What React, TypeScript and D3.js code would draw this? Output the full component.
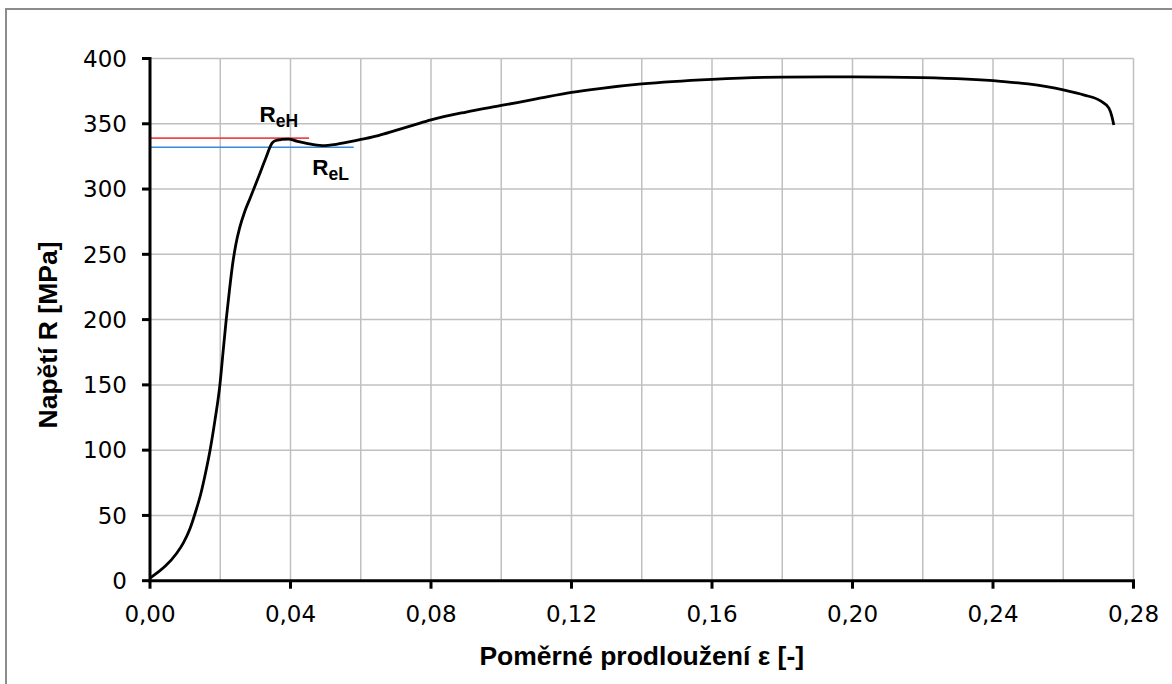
import React from "react";
import * as d3 from "d3";

const strain = [0, 0.002, 0.0043, 0.0076, 0.0095, 0.0114, 0.013, 0.0145, 0.016, 0.0171, 0.0185, 0.0199, 0.0208, 0.0217, 0.0226, 0.0235, 0.0244, 0.0255, 0.027, 0.0285, 0.031, 0.033, 0.0347, 0.0356, 0.0375, 0.0394, 0.042, 0.0446, 0.049, 0.053, 0.057, 0.06, 0.065, 0.07, 0.075, 0.08, 0.09, 0.1, 0.11, 0.12, 0.128, 0.14, 0.16, 0.18, 0.2, 0.22, 0.2422, 0.25, 0.26, 0.266, 0.2706, 0.273, 0.2738, 0.2744];
const stress = [2, 6, 11, 21, 29, 40, 53, 67, 85, 100, 123, 150, 175, 200, 222, 242, 257, 270, 283, 293, 310, 324, 335, 337, 338, 338.3, 336.5, 335, 333.3, 334.3, 336.3, 338, 341, 345, 349, 353, 359, 364, 369, 374, 377, 380.5, 384, 385.8, 386, 385.3, 382.5, 380.5, 376, 372, 367.5, 362, 356, 349];

const xTicks = [0, 0.04, 0.08, 0.12, 0.16, 0.2, 0.24, 0.28];
const xGrid = [0.02, 0.04, 0.06, 0.08, 0.1, 0.12, 0.14, 0.16, 0.18, 0.2, 0.22, 0.24, 0.26, 0.28];
const yTicks = [0, 50, 100, 150, 200, 250, 300, 350, 400];

const reH = { value: 339, end: 0.0453, labelX: 0.0312, labelY: 351.6 };
const reL = { value: 332, end: 0.058, labelX: 0.0462, labelY: 310.8 };

const xTitle = "Poměrné prodloužení ε [-]";
const yTitle = "Napětí R [MPa]";

export default function App() {
  const W = 1172, H = 684;
  const x = d3.scaleLinear().domain([0, 0.28]).range([150, 1133.5]);
  const y = d3.scaleLinear().domain([0, 400]).range([580.7, 58.5]);
  const pts: [number, number][] = strain.map((s, i) => [s, stress[i]]);
  const line = d3.line<[number, number]>().x(d => x(d[0])).y(d => y(d[1])).curve(d3.curveMonotoneX);
  const fmt = (v: number) => v.toFixed(2).replace(".", ",");
  const tickFont = "'DejaVu Sans', Verdana, sans-serif";
  const titleFont = "'Liberation Sans', Arial, sans-serif";
  return (
    <svg width={W} height={H} style={{ position: "absolute", left: 0, top: 0, background: "#fff" }}>
      <rect x={0} y={0} width={W} height={H} fill="#fff" />
      <rect x={6} y={9} width={1300} height={800} fill="none" stroke="#8c8c8c" strokeWidth={2} />
      {/* grid */}
      {yTicks.filter(v => v > 0).map(v => (
        <line key={"gy" + v} x1={x(0)} x2={x(0.28)} y1={y(v)} y2={y(v)} stroke="#c0c0c0" strokeWidth={1.5} />
      ))}
      {xGrid.map(v => (
        <line key={"gx" + v} x1={x(v)} x2={x(v)} y1={y(0)} y2={y(400)} stroke="#c0c0c0" strokeWidth={1.5} />
      ))}
      {/* ReH / ReL lines */}
      <line x1={x(0)} x2={x(reH.end)} y1={y(reH.value)} y2={y(reH.value)} stroke="#f04848" strokeWidth={1.7} />
      <line x1={x(0)} x2={x(reL.end)} y1={y(reL.value)} y2={y(reL.value)} stroke="#3a8ad8" strokeWidth={1.7} />
      {/* curve */}
      <path d={line(pts) || ""} fill="none" stroke="#000" strokeWidth={2.8} strokeLinejoin="round" />
      {/* axes */}
      <line x1={x(0)} x2={x(0)} y1={y(400) - 1.5} y2={y(0) + 1.5} stroke="#000" strokeWidth={3} />
      <line x1={x(0) - 1.5} x2={x(0.28) + 1.5} y1={y(0)} y2={y(0)} stroke="#000" strokeWidth={3} />
      {yTicks.map(v => (
        <g key={"ty" + v}>
          <line x1={x(0) - 8} x2={x(0)} y1={y(v)} y2={y(v)} stroke="#000" strokeWidth={3} />
          <text x={127} y={y(v) + 8.3} textAnchor="end" fontFamily={tickFont} fontSize={23} fill="#000">{v}</text>
        </g>
      ))}
      {xTicks.map(v => (
        <g key={"tx" + v}>
          <line x1={x(v)} x2={x(v)} y1={y(0)} y2={y(0) + 8} stroke="#000" strokeWidth={3} />
          <text x={x(v)} y={621.7} textAnchor="middle" fontFamily={tickFont} fontSize={23} fill="#000">{fmt(v)}</text>
        </g>
      ))}
      {/* labels */}
      <text x={x(reH.labelX)} y={y(reH.labelY)} fontFamily={titleFont} fontWeight="bold" fontSize={22.5} fill="#000">
        R<tspan fontSize={17.5} dy={5}>eH</tspan>
      </text>
      <text x={x(reL.labelX)} y={y(reL.labelY)} fontFamily={titleFont} fontWeight="bold" fontSize={22.5} fill="#000">
        R<tspan fontSize={17.5} dy={5}>eL</tspan>
      </text>
      {/* titles */}
      <text x={(x(0) + x(0.28)) / 2} y={665} textAnchor="middle" fontFamily={titleFont} fontWeight="bold" fontSize={26.5} fill="#000">{xTitle}</text>
      <text transform={`translate(57,335) rotate(-90)`} textAnchor="middle" fontFamily={titleFont} fontWeight="bold" fontSize={26.5} fill="#000">{yTitle}</text>
    </svg>
  );
}
